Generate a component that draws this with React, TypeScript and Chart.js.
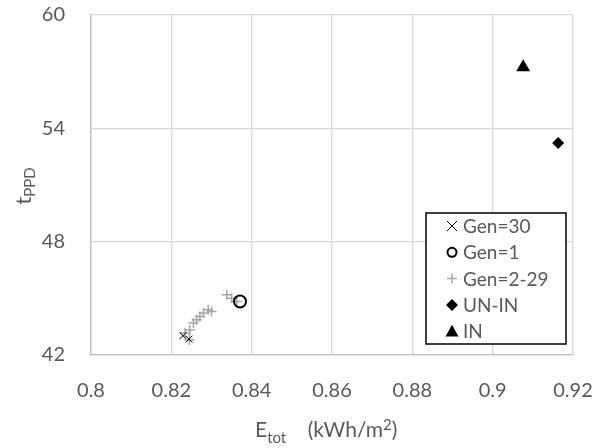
import React, { useEffect, useRef } from "react";
import { Chart, registerables } from "chart.js";

Chart.register(...registerables);

const xTicks = [0.8, 0.82, 0.84, 0.86, 0.88, 0.9, 0.92];
const yTicks = [42, 48, 54, 60];

const gen30X = [0.8229, 0.8244];
const gen30Y = [43.02, 42.84];
const gen1X = [0.8371];
const gen1Y = [44.83];
const genMidX = [0.8234, 0.8245, 0.8246, 0.8255, 0.8263, 0.8271, 0.828, 0.8292, 0.83, 0.8338, 0.835, 0.8363];
const genMidY = [43.16, 42.8, 43.33, 43.69, 43.86, 44.04, 44.22, 44.39, 44.3, 45.19, 45.01, 44.83];
const uninX = [0.9163];
const uninY = [53.23];
const inX = [0.9076];
const inY = [57.23];

const toPts = (xs: number[], ys: number[]) => xs.map((x, i) => ({ x, y: ys[i] }));

const FONT = "Lato";
const TXT = "#595959";

function drawMarker(ctx: CanvasRenderingContext2D, style: string, x: number, y: number, ds: any) {
  ctx.save();
  ctx.strokeStyle = ds.borderColor;
  ctx.fillStyle = ds.backgroundColor;
  ctx.lineWidth = ds.borderWidth;
  ctx.beginPath();
  if (style === "crossRot") {
    const r = 5;
    ctx.moveTo(x - r, y - r); ctx.lineTo(x + r, y + r);
    ctx.moveTo(x + r, y - r); ctx.lineTo(x - r, y + r);
    ctx.stroke();
  } else if (style === "cross") {
    const r = 5;
    ctx.moveTo(x - r, y); ctx.lineTo(x + r, y);
    ctx.moveTo(x, y - r); ctx.lineTo(x, y + r);
    ctx.stroke();
  } else if (style === "circle") {
    ctx.arc(x, y, 4.5, 0, Math.PI * 2);
    ctx.stroke();
  } else if (style === "rectRot") {
    const r = 6;
    ctx.moveTo(x, y - r); ctx.lineTo(x + r, y); ctx.lineTo(x, y + r); ctx.lineTo(x - r, y);
    ctx.closePath(); ctx.fill();
  } else if (style === "triangle") {
    const r = 6.5;
    ctx.moveTo(x, y - r); ctx.lineTo(x + r, y + r * 0.8); ctx.lineTo(x - r, y + r * 0.8);
    ctx.closePath(); ctx.fill();
  }
  ctx.restore();
}

const customPlugin = {
  id: "custom",
  afterDraw(chart: any) {
    const ctx: CanvasRenderingContext2D = chart.ctx;
    // legend box
    const bx = 426, by = 213, bw = 140, bh = 131;
    ctx.save();
    ctx.fillStyle = "#ffffff";
    ctx.fillRect(bx, by, bw, bh);
    ctx.strokeStyle = "#000000";
    ctx.lineWidth = 1.5;
    ctx.strokeRect(bx, by, bw, bh);
    ctx.font = `19px ${FONT}`;
    ctx.textBaseline = "middle";
    ctx.textAlign = "left";
    chart.data.datasets.forEach((ds: any, i: number) => {
      const y = by + 13 + i * 26.3;
      drawMarker(ctx, ds.pointStyle, 452, y, ds);
      ctx.fillStyle = TXT;
      ctx.fillText(ds.label, 463, y + 1);
    });
    // y title
    ctx.save();
    ctx.translate(24, 186);
    ctx.rotate(-Math.PI / 2);
    ctx.fillStyle = TXT;
    ctx.textBaseline = "alphabetic";
    ctx.font = `22px ${FONT}`;
    const tW = ctx.measureText("t").width;
    ctx.font = `15px ${FONT}`;
    const sW = ctx.measureText("PPD").width;
    const total = tW + sW;
    ctx.font = `22px ${FONT}`;
    ctx.fillText("t", -total / 2, 7);
    ctx.font = `15px ${FONT}`;
    ctx.fillText("PPD", -total / 2 + tW, 11);
    ctx.restore();
    // x title
    ctx.fillStyle = TXT;
    ctx.textBaseline = "alphabetic";
    const big = `21px ${FONT}`;
    const small = `15px ${FONT}`;
    const parts: [string, string, number][] = [
      ["E", big, 0],
      ["tot", small, 6],
      ["    (kWh/m", big, 0],
      ["2", small, -7],
      [")", big, 0],
    ];
    let x = 255;
    const base = 437;
    parts.forEach(([t, f, dy]) => {
      ctx.font = f;
      ctx.fillText(t, x, base + dy);
      x += ctx.measureText(t).width;
    });
    ctx.restore();
  },
};

export default function App() {
  const ref = useRef<HTMLCanvasElement>(null);
  useEffect(() => {
    document.body.style.margin = "0";
    const chart = new Chart(ref.current!, {
      type: "scatter",
      data: {
        datasets: [
          { label: "Gen=30", data: toPts(gen30X, gen30Y), pointStyle: "crossRot", radius: 5, borderColor: "#000000", backgroundColor: "#000000", borderWidth: 1, order: 1 } as any,
          { label: "Gen=1", data: toPts(gen1X, gen1Y), pointStyle: "circle", radius: 6, borderColor: "#000000", backgroundColor: "transparent", borderWidth: 2, order: 0 } as any,
          { label: "Gen=2-29", data: toPts(genMidX, genMidY), pointStyle: "cross", radius: 5, borderColor: "#a6a6a6", backgroundColor: "#a6a6a6", borderWidth: 1.5, order: 2 } as any,
          { label: "UN-IN", data: toPts(uninX, uninY), pointStyle: "rectRot", radius: 6, borderColor: "#000000", backgroundColor: "#000000", borderWidth: 0, order: 0 } as any,
          { label: "IN", data: toPts(inX, inY), pointStyle: "triangle", radius: 8, borderColor: "#000000", backgroundColor: "#000000", borderWidth: 0, order: 0 } as any,
        ],
      },
      options: {
        animation: false,
        responsive: false,
        layout: { padding: { top: 15, right: 35, left: 0, bottom: 0 } },
        plugins: { legend: { display: false }, tooltip: { enabled: false } },
        scales: {
          x: {
            type: "linear",
            min: 0.8,
            max: 0.92,
            afterBuildTicks: (axis: any) => { axis.ticks = xTicks.map((v) => ({ value: v })); },
            afterFit: (axis: any) => { axis.height = 93; axis.paddingLeft = 0; axis.paddingRight = 0; },
            ticks: { color: TXT, font: { family: FONT, size: 20 }, padding: 24, maxRotation: 0, callback: (v: any) => String(+Number(v).toFixed(2)) },
            grid: { color: "#d9d9d9", drawTicks: false, lineWidth: 1.3 },
            border: { color: "#bfbfbf", width: 1.3 },
          },
          y: {
            type: "linear",
            min: 42,
            max: 60,
            afterBuildTicks: (axis: any) => { axis.ticks = yTicks.map((v) => ({ value: v })); },
            afterFit: (axis: any) => { axis.width = 91; axis.paddingTop = 0; axis.paddingBottom = 0; },
            ticks: { color: TXT, font: { family: FONT, size: 20 }, padding: 26 },
            grid: { color: "#d9d9d9", drawTicks: false, lineWidth: 1.3 },
            border: { color: "#bfbfbf", width: 1.3 },
          },
        },
      },
      plugins: [customPlugin],
    });
    return () => chart.destroy();
  }, []);
  return (
    <div style={{ position: "absolute", left: 0, top: 0, width: 608, height: 448 }}>
      <canvas ref={ref} width={608} height={448} style={{ width: 608, height: 448 }} />
    </div>
  );
}
